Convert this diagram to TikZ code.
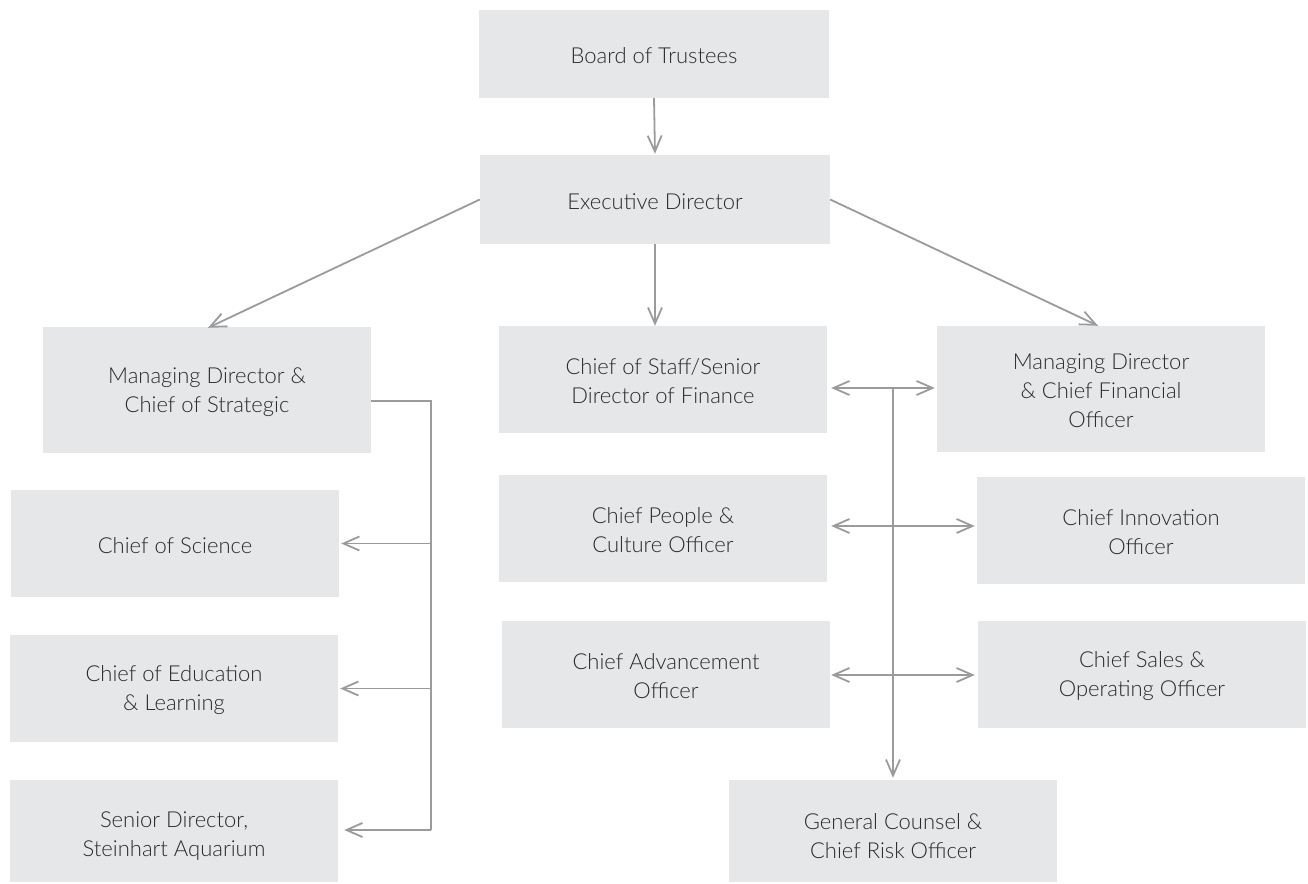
\documentclass[tikz,border=0pt]{standalone}
\usepackage{fontspec}
\setmainfont{Lato}[UprightFont=* Light]
\usetikzlibrary{arrows.meta,calc}
\definecolor{boxfill}{HTML}{E6E7E8}
\definecolor{linegray}{HTML}{9B9B9B}
\definecolor{txt}{HTML}{2A2A2A}
\begin{document}
\begin{tikzpicture}[x=1pt,y=-1pt,
  box/.style={fill=boxfill, draw=none, inner sep=0pt},
  lab/.style={align=center, text=txt, font=\fontsize{22}{29}\selectfont, inner sep=0pt, yshift=-2pt},
  lablow/.style={lab, yshift=-3pt},
  conn/.style={draw=linegray, line width=1.8pt, -{Straight Barb[length=16pt,width=14pt,line width=1.8pt]}},
  dconn/.style={draw=linegray, line width=1.8pt, {Straight Barb[length=16pt,width=14pt,line width=1.8pt]}-{Straight Barb[length=16pt,width=14pt,line width=1.8pt]}},
  plain/.style={draw=linegray, line width=1.8pt}]
\useasboundingbox (0,0) rectangle (1308,883);
\node[box, minimum width=350, minimum height=88, label={[lab]center:{Board of Trustees}}] (board) at (654,54) {};
\node[box, minimum width=350, minimum height=89, label={[lab]center:{Executive Director}}] (exec) at (655,199.5) {};
\node[box, minimum width=328, minimum height=126, label={[lab]center:{Managing Director \&\\Chief of Strategic}}] (mds) at (207,390) {};
\node[box, minimum width=328, minimum height=107, label={[lab]center:{Chief of Staff/Senior\\Director of Finance}}] (cos) at (663,379.5) {};
\node[box, minimum width=328, minimum height=126, label={[lab]center:{Managing Director\\\& Chief Financial\\Officer}}] (mdf) at (1101,389) {};
\node[box, minimum width=328, minimum height=107, label={[lab]center:{Chief of Science}}] (sci) at (175,543.5) {};
\node[box, minimum width=328, minimum height=107, label={[lab]center:{Chief People \&\\Culture Officer}}] (people) at (663,528.5) {};
\node[box, minimum width=328, minimum height=107, label={[lab]center:{Chief Innovation\\Officer}}] (innov) at (1141,530.5) {};
\node[box, minimum width=328, minimum height=107, label={[lab]center:{Chief of Education\\\& Learning}}] (edu) at (174,688.5) {};
\node[box, minimum width=328, minimum height=107, label={[lab]center:{Chief Advancement\\Officer}}] (adv) at (666,674.5) {};
\node[box, minimum width=328, minimum height=107, label={[lab]center:{Chief Sales \&\\Operating Officer}}] (sales) at (1142,674.5) {};
\node[box, minimum width=328, minimum height=102, label={[lablow]center:{Senior Director,\\Steinhart Aquarium}}] (aqu) at (174,831) {};
\node[box, minimum width=328, minimum height=102, label={[lablow]center:{General Counsel \&\\Chief Risk Officer}}] (gc) at (893,831) {};
% top connectors
\draw[conn, shorten >=1pt] (board.south) -- (exec.north);
\draw[conn] (exec.west) -- ($(mds.north)+(1,1)$);
\draw[conn] (exec.east) -- ($(mdf.north)+(-3,0)$);
\draw[conn] (exec.south) -- (exec.south |- cos.north);
% left bracket
\coordinate (lbt) at (431,401);
\coordinate (lbb) at (431,830);
\draw[plain] (mds.east |- lbt) -- (lbt) -- (lbb);
\draw[conn, shorten >=2pt] (lbt |- sci.east) -- (sci.east);
\draw[conn, shorten >=2pt] (lbt |- edu.east) -- (edu.east);
\draw[conn, shorten >=6pt] (lbb) -- (lbb -| aqu.east);
% right bus
\coordinate (rbt) at (893,388);
\draw[conn, shorten >=2pt] (rbt) -- (gc.north);
\draw[dconn, shorten <=4pt, shorten >=2pt] (cos.east |- rbt) -- (mdf.west |- rbt);
\coordinate (r2) at (893,526);
\draw[dconn, shorten <=4pt, shorten >=2pt] (people.east |- r2) -- (innov.west |- r2);
\coordinate (r3) at (893,675);
\draw[dconn, shorten <=1pt, shorten >=3pt] (adv.east |- r3) -- (sales.west |- r3);
\end{tikzpicture}
\end{document}
